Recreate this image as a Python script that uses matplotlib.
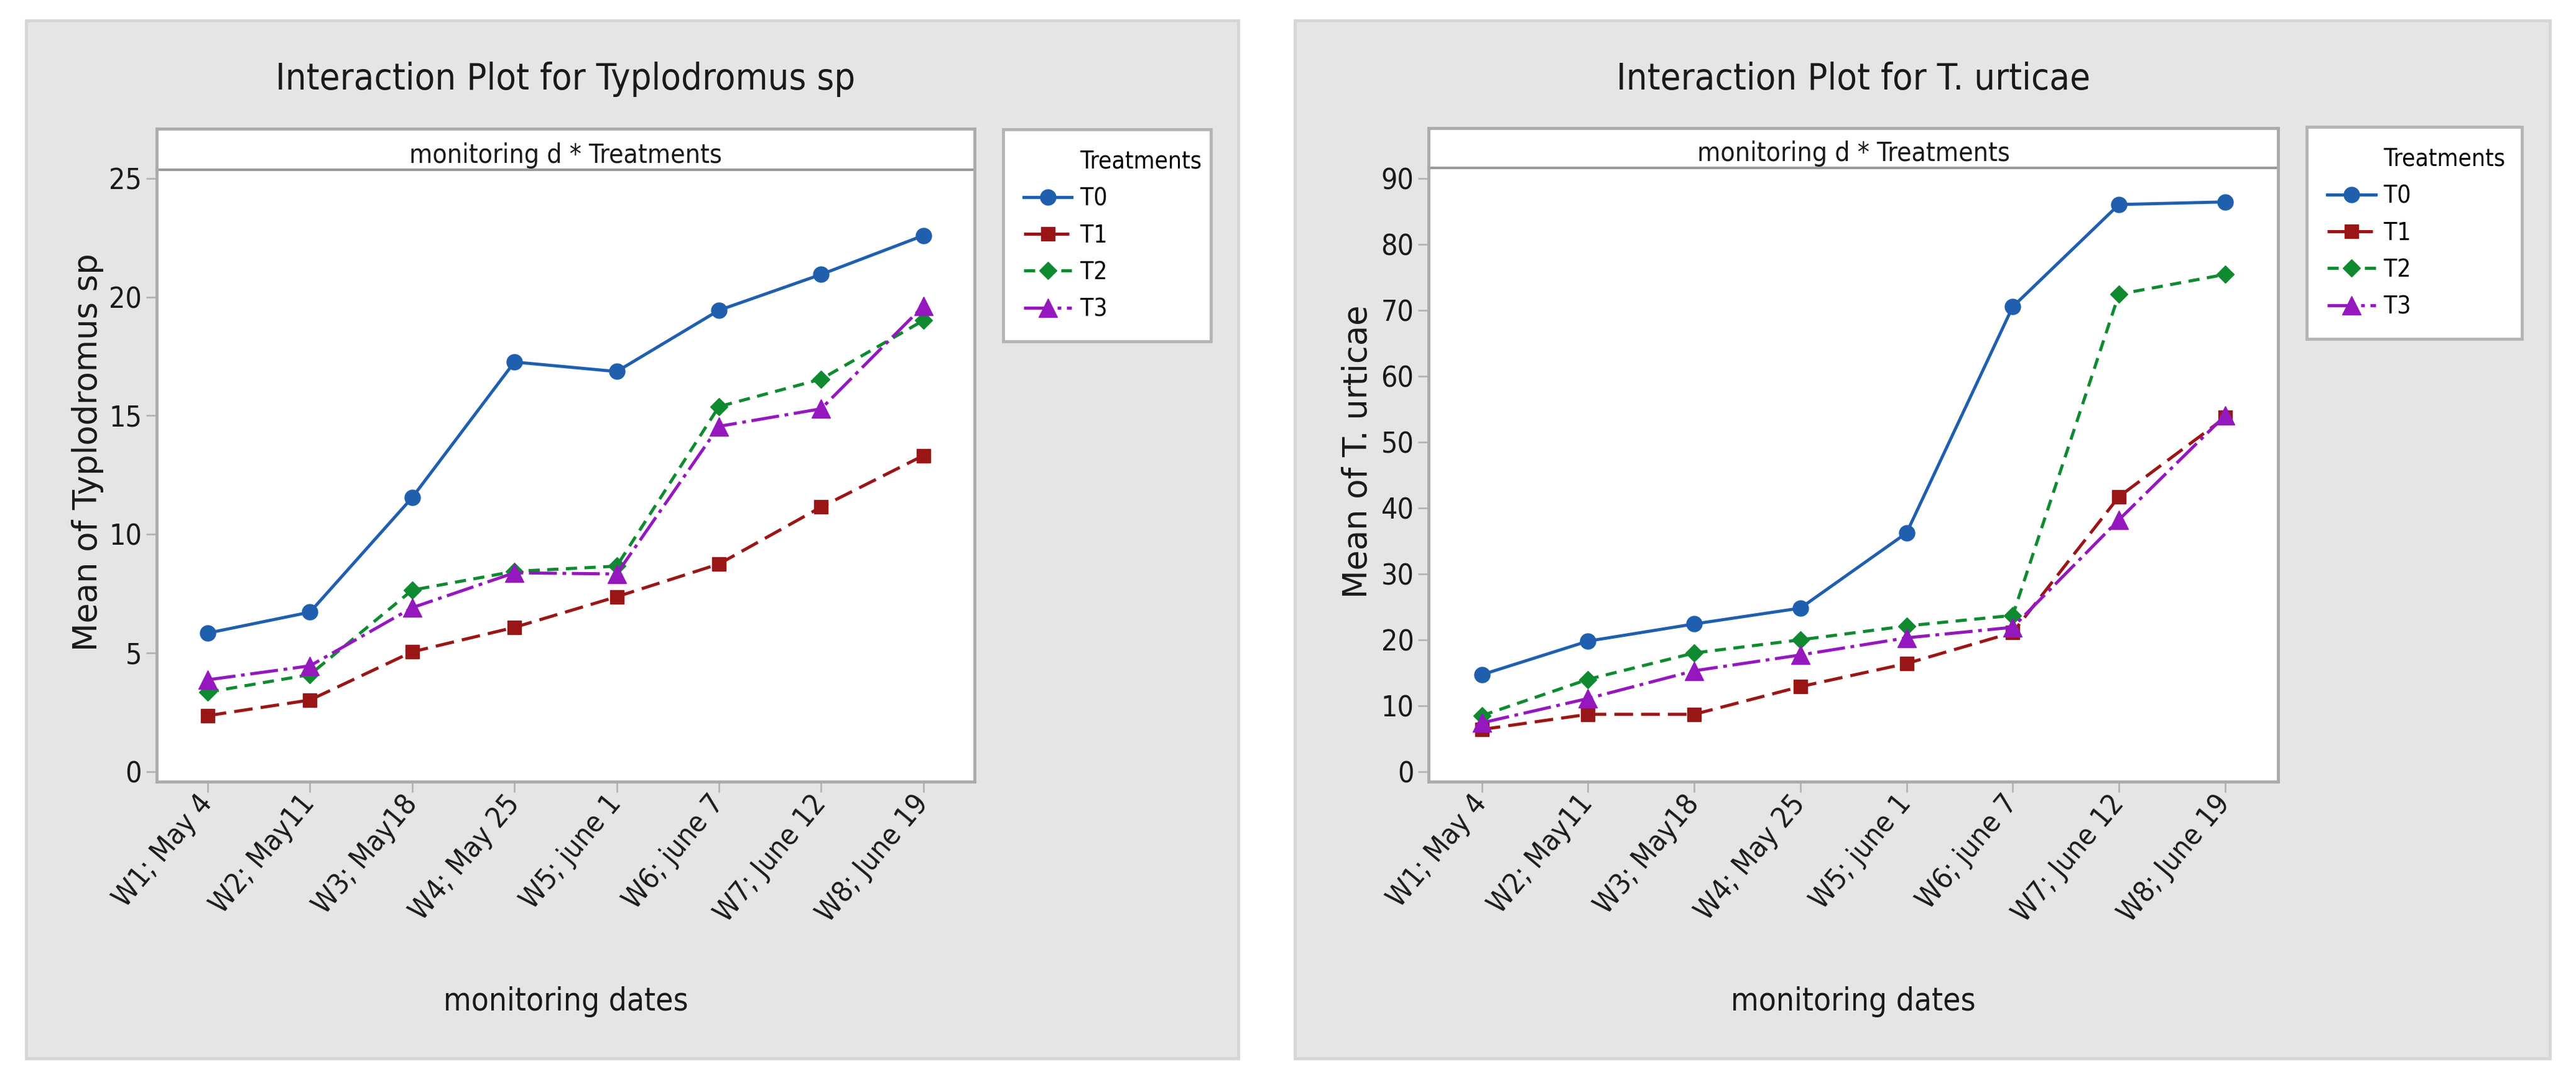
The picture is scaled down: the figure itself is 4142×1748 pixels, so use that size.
import matplotlib
matplotlib.use('Agg')
import matplotlib.pyplot as plt
import matplotlib.font_manager as fm
from matplotlib.patches import Rectangle
from matplotlib.lines import Line2D

# pick a narrow face if one is installed, else plain Liberation Sans
narrow = None
for f in fm.fontManager.ttflist:
    fn = f.fname.lower()
    if ('narrow' in fn or 'condensed' in fn) and f.style == 'normal' and f.weight in (400, 'normal', 'regular'):
        if narrow is None or 'liberation' in fn:
            narrow = f
if narrow is not None:
    plt.rcParams['font.family'] = [narrow.name, 'DejaVu Sans']
    plt.rcParams['font.stretch'] = narrow.stretch
else:
    plt.rcParams['font.family'] = ['Liberation Sans', 'DejaVu Sans']

# data
dates = ['W1; May 4', 'W2; May11', 'W3; May18', 'W4; May 25',
         'W5; june 1', 'W6; june 7', 'W7; June 12', 'W8; June 19']
treatments = ['T0', 'T1', 'T2', 'T3']

typ_T0 = [5.84, 6.72, 11.55, 17.26, 16.86, 19.44, 20.95, 22.59]
typ_T1 = [2.36, 3.02, 5.05, 6.08, 7.37, 8.75, 11.15, 13.32]
typ_T2 = [3.35, 4.09, 7.65, 8.44, 8.66, 15.38, 16.54, 19.01]
typ_T3 = [3.87, 4.46, 6.91, 8.38, 8.33, 14.55, 15.29, 19.62]

urt_T0 = [14.7, 19.8, 22.4, 24.8, 36.2, 70.5, 86.0, 86.4]
urt_T1 = [6.4, 8.7, 8.7, 12.9, 16.4, 21.1, 41.7, 53.7]
urt_T2 = [8.5, 14.0, 18.0, 20.0, 22.1, 23.7, 72.4, 75.4]
urt_T3 = [7.4, 11.1, 15.3, 17.7, 20.3, 21.9, 38.2, 54.0]

typ_ticks = [0, 5, 10, 15, 20, 25]
urt_ticks = [0, 10, 20, 30, 40, 50, 60, 70, 80, 90]

colors = ['#1f5fae', '#9a1616', '#0f8a30', '#9418bd']
markers = ['o', 's', 'D', '^']
msizes = [18, 15.5, 14, 22]
styles = ['-', (0, (6, 2.6)), (0, (3.6, 2.4)), (0, (9, 1.8, 1.2, 1.8))]

fig = plt.figure(figsize=(41.42, 17.48), dpi=100)
fig.patch.set_facecolor('white')

# the picture's text is very condensed; meet it half way between width and height
probe = fig.text(0, 0, 'Interaction Plot for Typlodromus sp', fontsize=47.5)
w = probe.get_window_extent(fig.canvas.get_renderer()).width
probe.remove()
k = min(1.0, 838.0 / w) ** 0.5


def panel(bg, axrect, title, ylabel, series, ylim, yticks, strip_y, legrect, ylab_x):
    fig.add_artist(Rectangle((bg[0], bg[1]), bg[2], bg[3], transform=fig.transFigure,
                             facecolor='#e5e5e5', edgecolor='#d6d6d6', lw=3.5, zorder=0))
    ax = fig.add_axes(axrect)
    ax.set_facecolor('white')
    x = list(range(len(dates)))
    lines = []
    for i in range(4):
        ln, = ax.plot(x, series[i], color=colors[i], linestyle=styles[i], lw=3.6,
                      marker=markers[i], markersize=msizes[i], markeredgecolor=colors[i],
                      markerfacecolor=colors[i], label=treatments[i])
        lines.append(ln)
    ax.set_xlim(-0.5, 7.5)
    ax.set_ylim(ylim)
    ax.set_yticks(yticks)
    ax.set_xticks(x)
    ax.set_xticklabels(dates, rotation=50, ha='right', va='center', rotation_mode='anchor')
    ax.tick_params(axis='both', direction='out', length=12, width=2, color='#b3b3b3',
                   labelsize=37 * k, labelcolor='#1a1a1a')
    ax.tick_params(axis='y', pad=5)
    ax.tick_params(axis='x', pad=8)
    for key, spine in ax.spines.items():
        spine.set_color('#ababab')
        spine.set_linewidth(3.5)
    ax.plot([0, 1], [strip_y, strip_y], transform=ax.transAxes, color='#9a9a9a', lw=3, clip_on=False)
    ax.text(0.5, strip_y + 0.022, 'monitoring d * Treatments', transform=ax.transAxes,
            ha='center', va='center', fontsize=34 * k, color='#1a1a1a')
    cx = axrect[0] + axrect[2] / 2
    fig.text(cx, 0.9268, title, ha='center', va='center', fontsize=47.5 * k, color='#1a1a1a')
    ax.set_xlabel('monitoring dates', fontsize=41 * k, va='center', color='#1a1a1a')
    ax.xaxis.set_label_coords(0.5, -0.337)
    ax.set_ylabel(ylabel, fontsize=38, family='DejaVu Sans', stretch='normal',
                  va='center', color='#1a1a1a')
    ax.yaxis.set_label_coords(ylab_x, 0.505)

    blank = Line2D([], [], linestyle='none', marker='none')
    leg = fig.legend([blank] + lines, ['Treatments'] + treatments, loc='upper left',
                     bbox_to_anchor=legrect, bbox_transform=fig.transFigure, mode='expand',
                     borderaxespad=0, borderpad=0.85, labelspacing=0.55, handlelength=2.0,
                     handletextpad=0.35, fontsize=31 * k, frameon=True, fancybox=False,
                     edgecolor='#b4b4b4', framealpha=1)
    leg.get_frame().set_linewidth(3.5)
    return ax


panel((0.0101, 0.0263, 0.4705, 0.9548), [0.0608, 0.2809, 0.3175, 0.6007],
      'Interaction Plot for Typlodromus sp', 'Mean of Typlodromus sp',
      [typ_T0, typ_T1, typ_T2, typ_T3], (-0.42, 27.09), typ_ticks, 0.937,
      (0.3894, 0.6882, 0.0806, 0.1928), -0.0844)

panel((0.5027, 0.0263, 0.4872, 0.9548), [0.5546, 0.2809, 0.3298, 0.6013],
      'Interaction Plot for T. urticae', 'Mean of T. urticae',
      [urt_T0, urt_T1, urt_T2, urt_T3], (-1.51, 97.6), urt_ticks, 0.939,
      (0.8955, 0.6905, 0.0835, 0.1928), -0.0835)

fig.savefig('out.png', dpi=100, facecolor='white')
